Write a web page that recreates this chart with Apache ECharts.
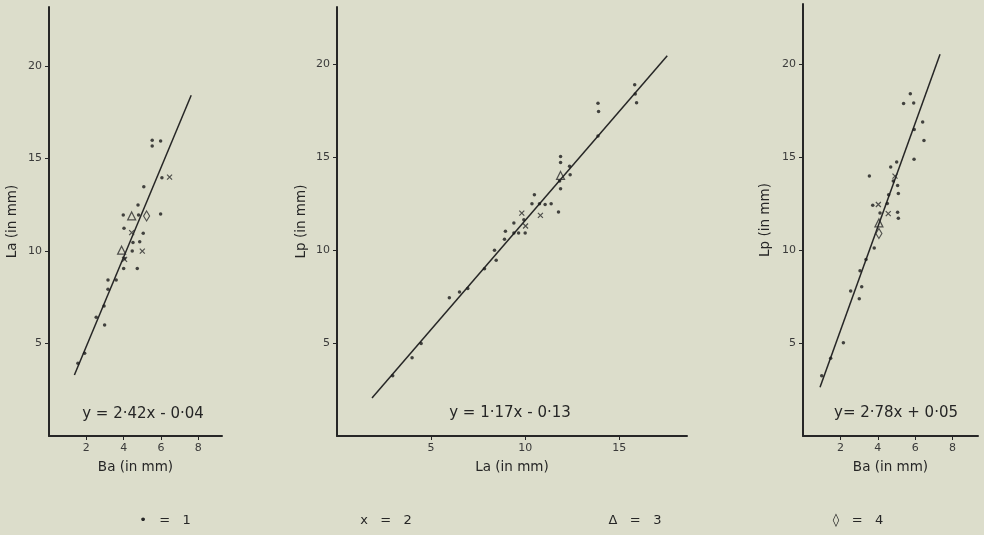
<!DOCTYPE html>
<html><head><meta charset="utf-8">
<script src="https://cdn.jsdelivr.net/npm/echarts@6/dist/echarts.min.js"></script>
<style>html,body{margin:0;padding:0;background:#dcddcb}#c{width:984px;height:535px}</style>
</head><body><div id="c"></div>
<script>
// Panel 1: La vs Ba
const p1Dots = [[5.53,16.0],[5.98,15.96],[5.53,15.68],[6.05,13.96],[5.08,13.48],[4.77,12.49],[3.98,11.95],[4.80,11.95],[5.98,12.0],[4.02,11.23],[5.05,10.96],[4.50,10.47],[4.86,10.50],[4.46,10.0],[4.0,9.06],[4.73,9.06],[3.16,8.43],[3.6,8.43],[3.16,7.93],[2.95,7.03],[2.53,6.42],[2.98,6.0],[1.91,4.47],[1.55,3.93],[4.05,9.6]];
const p1Crosses = [[6.46,14.0],[4.43,11.0],[5.0,10.0],[4.05,9.55]];
const p1Triangles = [[4.43,11.9],[3.89,10.05]];
const p1Diamonds = [[5.23,11.9]];
const p1Line = [[1.36,3.3],[7.62,18.43]];
// Panel 2: Lp vs La
const p2Dots = [[2.96,3.24],[3.99,4.21],[4.47,4.98],[5.97,7.44],[6.51,7.76],[6.95,7.94],[7.84,9.0],[8.37,10.0],[8.46,9.46],[8.9,10.6],[8.95,11.02],[9.40,10.93],[9.65,10.93],[10.0,10.93],[9.40,11.47],[9.93,11.65],[10.36,12.51],[10.49,12.99],[10.76,12.51],[11.06,12.46],[11.38,12.51],[11.77,12.06],[11.83,13.73],[11.88,13.32],[11.88,15.05],[11.88,14.73],[12.36,14.52],[12.39,14.07],[13.87,17.92],[13.9,17.47],[13.87,16.15],[15.82,18.91],[15.85,18.42],[15.92,17.94]];
const p2Crosses = [[9.82,12.0],[10.81,11.88],[10.02,11.31]];
const p2Triangles = [[11.88,14.03]];
const p2Diamonds = [];
const p2Line = [[1.86,2.05],[17.55,20.48]];
// Panel 3: Lp vs Ba
const p3Dots = [[5.74,18.42],[5.38,17.89],[5.92,17.92],[6.40,16.9],[5.95,16.49],[6.47,15.91],[5.94,14.89],[3.55,13.99],[5.01,14.75],[4.69,14.48],[4.83,13.73],[5.06,13.48],[5.10,13.05],[4.58,12.99],[4.51,12.51],[3.73,12.42],[4.12,12.0],[5.06,12.04],[5.10,11.72],[3.81,10.12],[3.37,9.5],[3.05,8.89],[3.14,8.03],[3.01,7.38],[2.55,7.80],[2.16,5.02],[1.48,4.18],[1.0,3.24]];
const p3Crosses = [[4.92,13.99],[4.03,12.46],[4.56,11.97]];
const p3Triangles = [[4.06,11.47]];
const p3Diamonds = [[4.06,10.9]];
const p3Line = [[0.91,2.63],[7.33,20.54]];

const yTicks = [5,10,15,20];
const xTicksBa = [2,4,6,8];
const xTicksLa = [5,10,15];
const yNames = ['La (in mm)','Lp (in mm)','Lp (in mm)'];
const xNames = ['Ba (in mm)','La (in mm)','Ba (in mm)'];
const equations = ['y = 2·42x - 0·04','y = 1·17x - 0·13','y= 2·78x + 0·05'];
const legendItems = ['•   =   1','x   =   2','Δ   =   3','◊   =   4'];

const FONT = 'DejaVu Sans';
const INK = '#262626';
const grids = [
  {left:49, top:7, width:173, height:429},
  {left:337, top:7, width:350, height:429},
  {left:803, top:4, width:175, height:432}
];
const xMax = [9.27, 18.6, 9.36];
const yMax = [23.2, 23.1, 23.25];
const xTickSets = [xTicksBa, xTicksLa, xTicksBa];
const yGaps = [30, 29, 31];

const xAxes = [], yAxes = [];
for (let i=0;i<3;i++){
  xAxes.push({gridIndex:i, type:'value', min:0, max:xMax[i], splitLine:{show:false},
    axisLine:{lineStyle:{color:INK,width:2}},
    axisTick:{customValues:xTickSets[i], length:4, lineStyle:{color:INK,width:1}},
    axisLabel:{customValues:xTickSets[i], color:'#3a3a3a', fontFamily:FONT, fontSize:11, margin:7},
    name:xNames[i], nameLocation:'middle', nameGap:24,
    nameTextStyle:{color:INK, fontFamily:FONT, fontSize:13.5}});
  yAxes.push({gridIndex:i, type:'value', min:0, max:yMax[i], splitLine:{show:false},
    axisLine:{lineStyle:{color:INK,width:2}},
    axisTick:{customValues:yTicks, length:4, lineStyle:{color:INK,width:1}},
    axisLabel:{customValues:yTicks, color:'#3a3a3a', fontFamily:FONT, fontSize:11, margin:7},
    name:yNames[i], nameLocation:'middle', nameGap:yGaps[i],
    nameTextStyle:{color:INK, fontFamily:FONT, fontSize:13.5}});
}
const crossPath = 'path://M0,0L10,10M10,0L0,10';
const diamondPath = 'path://M5,0L10,9L5,18L0,9Z';
const series = [];
const sets = [
  [p1Dots,p1Crosses,p1Triangles,p1Diamonds,p1Line],
  [p2Dots,p2Crosses,p2Triangles,p2Diamonds,p2Line],
  [p3Dots,p3Crosses,p3Triangles,p3Diamonds,p3Line]
];
sets.forEach((s,i)=>{
  series.push({type:'line', xAxisIndex:i, yAxisIndex:i, data:s[4], symbol:'none',
    lineStyle:{color:INK,width:1.5}, silent:true, z:1});
  series.push({type:'scatter', xAxisIndex:i, yAxisIndex:i, data:s[0], symbol:'circle', symbolSize:3.5,
    itemStyle:{color:'#1a1a1a'}, z:3});
  series.push({type:'scatter', xAxisIndex:i, yAxisIndex:i, data:s[1], symbol:crossPath, symbolSize:5,
    itemStyle:{color:'none', borderColor:'#2a2a2a', borderWidth:1.2}, z:3});
  series.push({type:'scatter', xAxisIndex:i, yAxisIndex:i, data:s[2], symbol:'triangle', symbolSize:[8,8],
    itemStyle:{color:'none', borderColor:'#2a2a2a', borderWidth:1.2}, z:3});
  series.push({type:'scatter', xAxisIndex:i, yAxisIndex:i, data:s[3], symbol:diamondPath, symbolSize:[6,10],
    itemStyle:{color:'none', borderColor:'#2a2a2a', borderWidth:1.2}, z:3});
});

const eqPos = [[143,414],[510,413],[896,413]];
const legPos = [165,386,635,858];
const graphic = [];
equations.forEach((t,i)=>graphic.push({type:'text', x:eqPos[i][0], y:eqPos[i][1],
  style:{text:t, fill:INK, font:'15px "'+FONT+'"', align:'center', verticalAlign:'middle'}}));
legendItems.forEach((t,i)=>graphic.push({type:'text', x:legPos[i], y:521,
  style:{text:t, fill:INK, font:'13px "'+FONT+'"', align:'center', verticalAlign:'middle'}}));

const chart = echarts.init(document.getElementById('c'), null, {renderer:'canvas'});
chart.setOption({
  backgroundColor:'#dcddcb', animation:false,
  grid:grids, xAxis:xAxes, yAxis:yAxes, series:series, graphic:graphic
});
</script></body></html>
